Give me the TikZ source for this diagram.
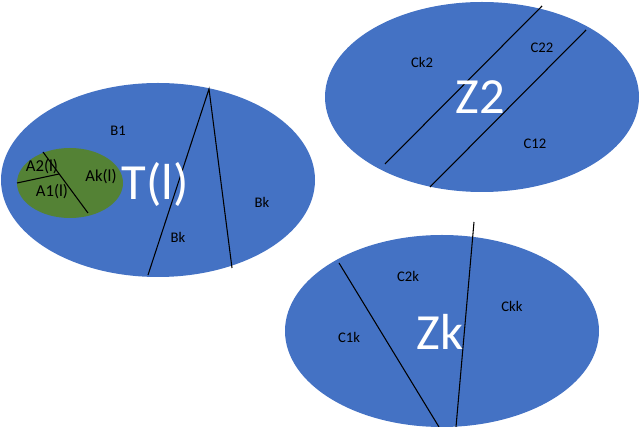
\documentclass[tikz,border=0pt]{standalone}
\usepackage{fontspec}
\setmainfont{Carlito}
\usepackage{xcolor}
\definecolor{setblue}{RGB}{68,114,196}
\definecolor{subgreen}{RGB}{84,130,53}

\begin{document}
\begin{tikzpicture}[x=0.75pt,y=-0.75pt,
    cut/.style={black,line width=0.8pt},
    part/.style={font=\fontsize{11}{13}\selectfont},
    apart/.style={font=\fontsize{12.5}{14}\selectfont},
    bigname/.style={white,font=\fontsize{38}{40}\selectfont}]
    \useasboundingbox (0,0) rectangle (640,427);

    % Set T(l) with its subsets
    \fill[setblue] (158,180) ellipse [x radius=157, y radius=97];
    \fill[subgreen] (70,183) ellipse [x radius=53, y radius=35];
    \draw[cut] (43,152) -- (88,213);
    \draw[cut] (17,183) -- (59,174);
    \draw[cut] (148,275) -- (209,89) -- (232,268);
    \node[apart] (a2) at (42,167) {A2(l)};
    \node[apart] (a1) at (52,192) {A1(l)};
    \node[apart] (ak) at (101,177) {Ak(l)};
    \node[part] (b1) at (118,131) {B1};
    \node[part] (bk1) at (178,237) {Bk};
    \node[part] (bk2) at (262,202) {Bk};
    \node[bigname] (tl) at (155,184) {T(l)};

    % Set Z2
    \fill[setblue] (482,97) ellipse [x radius=157, y radius=95];
    \draw[cut] (385,164) -- (542,6);
    \draw[cut] (430,187) -- (586,30);
    \node[part] (ck2) at (422,62) {Ck2};
    \node[part] (c22) at (542,48) {C22};
    \node[part] (c12) at (535,144) {C12};
    \node[bigname] (z2) at (480,97) {Z2};

    % Set Zk
    \fill[setblue] (442,331) ellipse [x radius=157, y radius=96];
    \draw[cut] (339,263) -- (439,427);
    \draw[cut] (474,222) -- (456,427);
    \node[part] (c2k) at (408,276) {C2k};
    \node[part] (ckk) at (512,306) {Ckk};
    \node[part] (c1k) at (349,337) {C1k};
    \node[bigname] (zk) at (440,332) {Zk};
\end{tikzpicture}
\end{document}
